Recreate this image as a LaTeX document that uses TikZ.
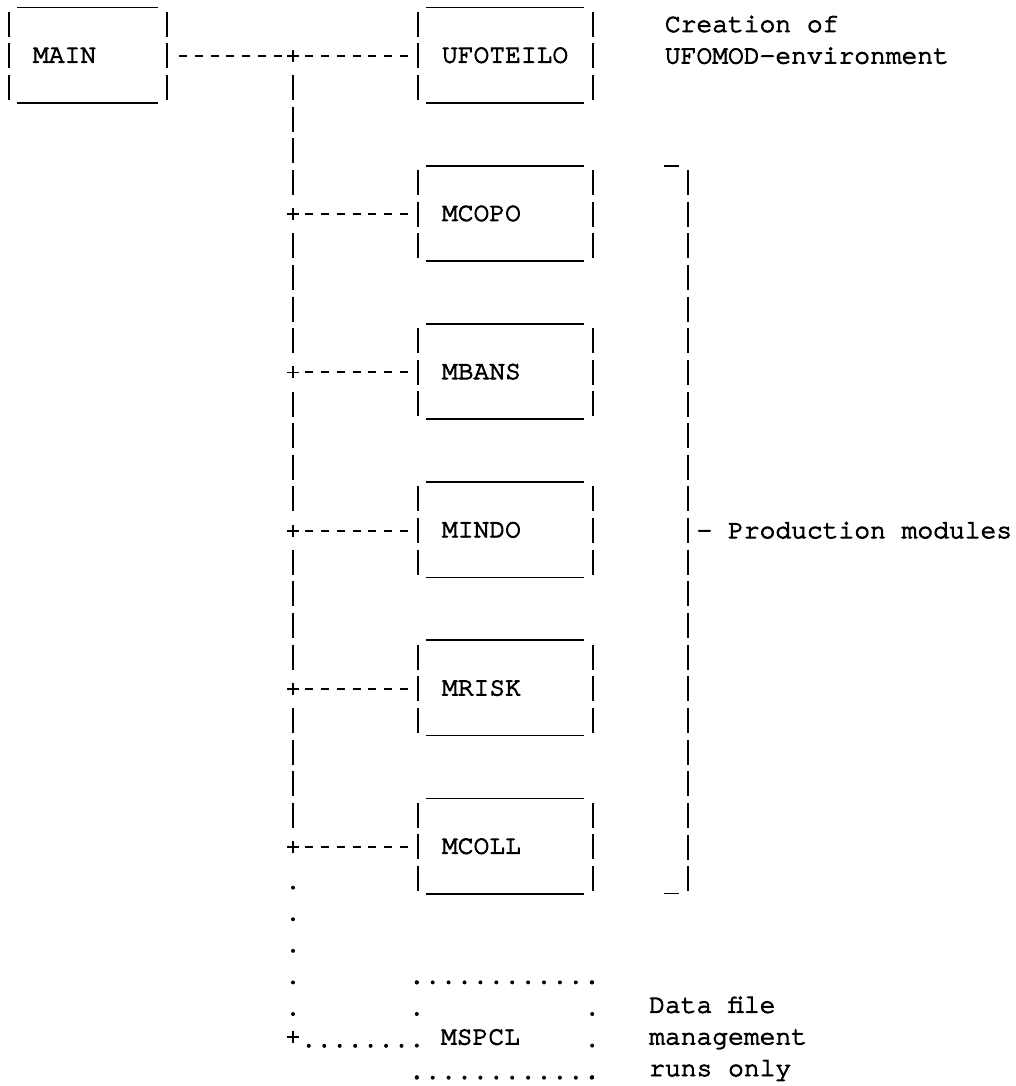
\documentclass[tikz,border=0pt]{standalone}
\usepackage{fontspec}
\newfontfamily\tw[FakeBold=3.5]{TeX Gyre Cursor}
\begin{document}
\begin{tikzpicture}[x=1pt,y=1pt,
  tt/.style={font=\tw\fontsize{26.3}{31.64}\selectfont, inner sep=0pt},
  modbox/.style={tt, rectangle, inner xsep=24pt, inner ysep=0pt, text width=127pt, align=left,
                 minimum height=94.9pt, text height=15pt, text depth=0pt},
  rule/.style={line width=1.7pt},
  vbar/.style={line width=1.9pt, dash pattern=on 25pt off 6.64pt},
  hy/.style={line width=2pt, dash pattern=on 8pt off 7.8pt},
  dotv/.style={line width=4pt, line cap=round, dash pattern=on 0pt off 31.6pt},
  doth/.style={line width=4pt, line cap=round, dash pattern=on 0pt off 15.9pt},
  dotc/.style={line width=4pt, line cap=round, dash pattern=on 0pt off 15.45pt},
  lbl/.style={tt, anchor=base west},
]
\useasboundingbox (0,0) rectangle (1015,-1086);

% module boxes
\node[modbox, text width=110pt] (main) at (88,-55.15) {MAIN};
\node[modbox] (ufo)   at (505.5,-55.15) {UFOTEILO};
\node[modbox] (mcopo) at (505.5,{-(56+31.64*5)+0.85}) {MCOPO};
\node[modbox] (mbans) at (505.5,{-(56+31.64*10)+0.85}) {MBANS};
\node[modbox] (mindo) at (505.5,{-(56+31.64*15)+0.85}) {MINDO};
\node[modbox] (mrisk) at (505.5,{-(56+31.64*20)+0.85}) {MRISK};
\node[modbox] (mcoll) at (505.5,{-(56+31.64*25)+0.85}) {MCOLL};
\node[modbox, text height=29pt] (mspcl) at (504.5,-1030.02) {MSPCL};

\foreach \n in {main,ufo,mcopo,mbans,mindo,mrisk,mcoll} {
  \draw[rule] ([xshift=8.5pt]\n.north west) -- ([xshift=-9pt]\n.north east);
  \draw[rule] ([xshift=8.5pt]\n.south west) -- ([xshift=-9pt]\n.south east);
  \draw[vbar] ([yshift=-4.3pt]\n.north west) -- ([yshift=2.6pt]\n.south west);
  \draw[vbar] ([yshift=-4.3pt]\n.north east) -- ([yshift=2.6pt]\n.south east);
}

% dotted box of MSPCL
\draw[doth] (mspcl.north west) -- (mspcl.north east);
\draw[doth] (mspcl.south west) -- (mspcl.south east);
\draw[dotv] (mspcl.north west) -- (mspcl.south west);
\draw[dotv] (mspcl.north east) -- (mspcl.south east);

% junctions on the trunk
\foreach \k in {0,5,10,15,20,25,31}
  \coordinate (j\k) at (293,{-(56+31.64*\k)});
\foreach \k in {0,5,10,15,20,25,31}
  \draw[line width=1.8pt] (j\k) +(-6,0) -- +(6,0) (j\k) +(0,-6) -- +(0,6);

% trunk
\foreach \a/\b in {0/5,5/10,10/15,15/20,20/25}
  \draw[vbar, shorten <=19.14pt, shorten >=19.14pt] (j\a) -- (j\b);
\draw[dotv, shorten <=40.64pt, shorten >=20pt] (j25) -- (j31);

% branches
\draw[hy, shorten <=11.8pt, shorten >=11.4pt] (main.east |- j0) -- (j0);
\draw[hy, shorten <=12.2pt, shorten >=10pt] (j0) -- (ufo.west |- j0);
\draw[hy, shorten <=12.2pt, shorten >=10pt] (j5) -- (mcopo.west |- j5);
\draw[hy, shorten <=12.2pt, shorten >=10pt] (j10) -- (mbans.west |- j10);
\draw[hy, shorten <=12.2pt, shorten >=10pt] (j15) -- (mindo.west |- j15);
\draw[hy, shorten <=12.2pt, shorten >=10pt] (j20) -- (mrisk.west |- j20);
\draw[hy, shorten <=12.2pt, shorten >=10pt] (j25) -- (mcoll.west |- j25);
\coordinate (jd) at ([yshift=-9pt]j31);
\draw[dotc, shorten <=15.8pt] (jd) -- (jd -| mspcl.west);

% bracket of production modules
\coordinate (bt) at (688,-170.06);
\coordinate (bb) at (688,-891.14);
\draw[vbar] (bt) -- (bb);
\draw[rule] (664,-165.9) -- (679,-165.9);
\draw[rule] (664,-893.6) -- (679,-893.6);

% labels
\node[lbl] (prod) at (696.3,-538.1) {- Production modules};
\node[lbl] (cre1) at (664.7,-31.9) {Creation of};
\node[lbl] (cre2) at (664.7,-63.5) {UFOMOD-environment};
\node[lbl] (dat1) at (649,-1012.7) {Data file};
\node[lbl] (dat2) at (649,-1044.3) {management};
\node[lbl] (dat3) at (649,-1076) {runs only};
\end{tikzpicture}
\end{document}
